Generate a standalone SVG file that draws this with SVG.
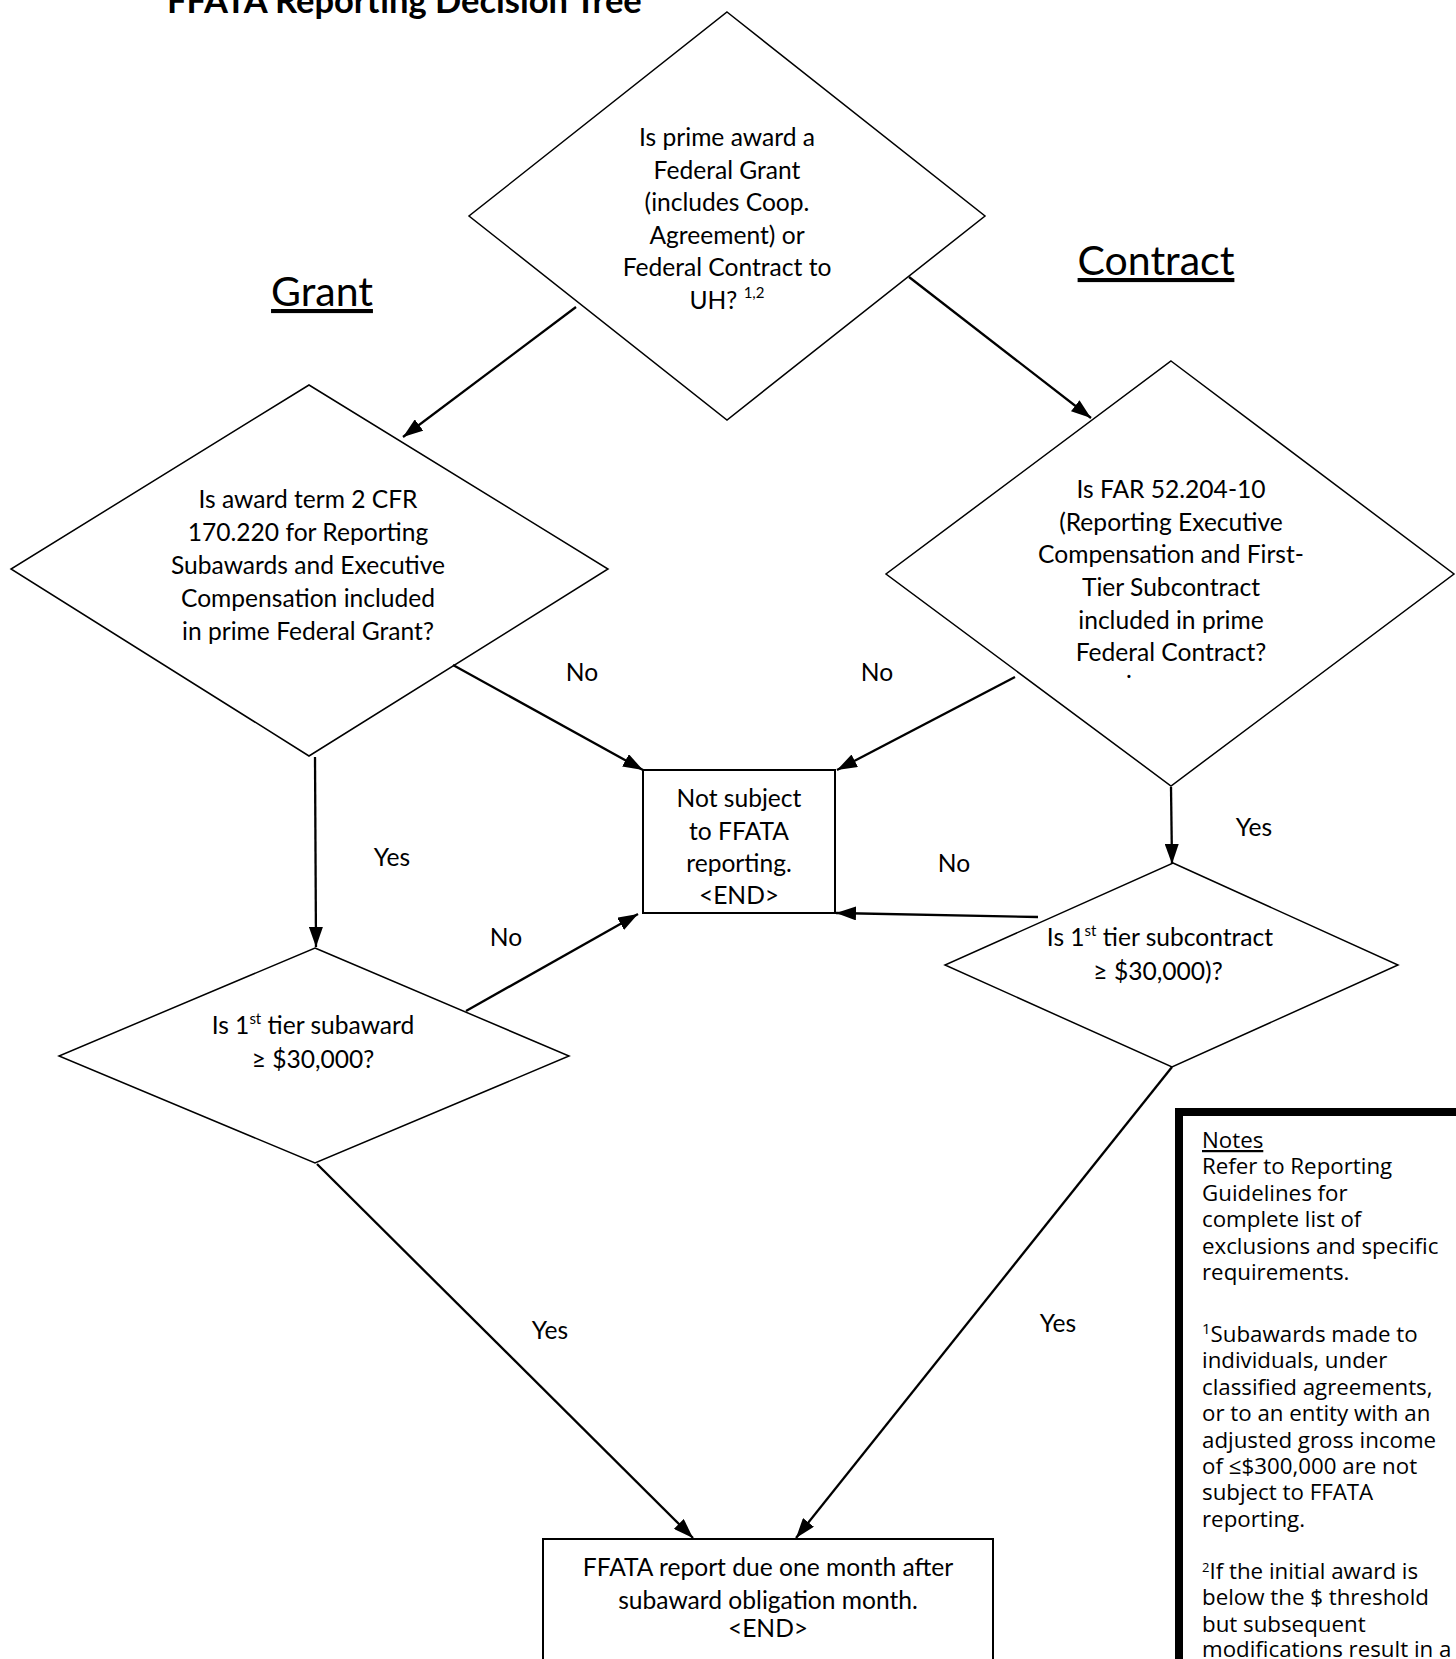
<svg xmlns="http://www.w3.org/2000/svg" width="1456" height="1659" viewBox="0 0 1456 1659">
<style>
.t{font-family:Lato,"Open Sans","Liberation Sans",sans-serif;font-size:24.6px;fill:#000;text-anchor:middle}
.big{font-family:Lato,"Open Sans","Liberation Sans",sans-serif;font-size:41px;fill:#000;text-anchor:middle;text-decoration:underline}
.title{font-family:Lato,"Open Sans","Liberation Sans",sans-serif;font-size:34.5px;font-weight:bold;fill:#000}
.n{font-family:"Open Sans","Liberation Sans",sans-serif;font-size:22.3px;fill:#000}
.d{fill:#fff;stroke:#000;stroke-width:1.5}
.b{fill:#fff;stroke:#000;stroke-width:2}
.c{fill:none;stroke:#000;stroke-width:2.3;marker-end:url(#ah)}
</style>
<defs>
<marker id="ah" markerUnits="userSpaceOnUse" markerWidth="20" markerHeight="14" refX="20" refY="7" orient="auto">
<path d="M0,0 L20,7 L0,14 z" fill="#000"/>
</marker>
</defs>
<rect width="1456" height="1659" fill="#fff"/>
<text class="title" x="167" y="13">FFATA Reporting Decision Tree</text>
<text class="big" x="322" y="306">Grant</text>
<text class="big" x="1156" y="275">Contract</text>

<g id="q-prime">
<polygon class="d" points="727,12 985,216 727,420 469,216"/>
<text class="t" x="727" y="146">Is prime award a</text>
<text class="t" x="727" y="179">Federal Grant</text>
<text class="t" x="727" y="211">(includes Coop.</text>
<text class="t" x="727" y="244">Agreement) or</text>
<text class="t" x="727" y="276">Federal Contract to</text>
<text class="t" x="727" y="309">UH? <tspan font-size="15" dy="-11">1,2</tspan></text>
</g>

<g id="q-grant">
<polygon class="d" points="309,385 608,569 309,756 11,569"/>
<text class="t" x="308" y="508">Is award term 2 CFR</text>
<text class="t" x="308" y="541">170.220 for Reporting</text>
<text class="t" x="308" y="574">Subawards and Executive</text>
<text class="t" x="308" y="607">Compensation included</text>
<text class="t" x="308" y="640">in prime Federal Grant?</text>
</g>

<g id="q-contract">
<polygon class="d" points="1171,361 1454,574 1171,786 886,574"/>
<text class="t" x="1171" y="498">Is FAR 52.204-10</text>
<text class="t" x="1171" y="531">(Reporting Executive</text>
<text class="t" x="1171" y="563">Compensation and First-</text>
<text class="t" x="1171" y="596">Tier Subcontract</text>
<text class="t" x="1171" y="629">included in prime</text>
<text class="t" x="1171" y="661">Federal Contract?</text>
<text class="t" x="1129" y="678" font-size="9">.</text>
</g>

<g id="end-not-subject">
<rect class="b" x="643" y="770" width="192" height="143"/>
<text class="t" x="739" y="807">Not subject</text>
<text class="t" x="739" y="840">to FFATA</text>
<text class="t" x="739" y="872">reporting.</text>
<text class="t" x="739" y="904" font-size="20">&lt;END&gt;</text>
</g>

<g id="q-subaward">
<polygon class="d" points="315,948 569,1056 315,1163 59,1056"/>
<text class="t" x="313" y="1034">Is 1<tspan font-size="15" dy="-10">st</tspan><tspan dy="10"> tier subaward</tspan></text>
<text class="t" x="313" y="1068">≥ $30,000?</text>
</g>

<g id="q-subcontract">
<polygon class="d" points="1173,863 1398,965 1172,1067 945,965"/>
<text class="t" x="1160" y="946">Is 1<tspan font-size="15" dy="-10">st</tspan><tspan dy="10"> tier subcontract</tspan></text>
<text class="t" x="1158" y="980">≥ $30,000)?</text>
</g>

<g id="end-report">
<rect class="b" x="543" y="1539" width="450" height="140"/>
<text class="t" x="768" y="1576">FFATA report due one month after</text>
<text class="t" x="768" y="1609">subaward obligation month.</text>
<text class="t" x="768" y="1637" font-size="18.5">&lt;END&gt;</text>
</g>

<g id="notes">
<rect x="1179" y="1112" width="400" height="700" fill="#fff" stroke="#000" stroke-width="8"/>
<text class="n" x="1202" y="1148" text-decoration="underline">Notes</text>
<text class="n" x="1202" y="1174">Refer to Reporting</text>
<text class="n" x="1202" y="1201">Guidelines for</text>
<text class="n" x="1202" y="1227">complete list of</text>
<text class="n" x="1202" y="1254">exclusions and specific</text>
<text class="n" x="1202" y="1280">requirements.</text>
<text class="n" x="1202" y="1342"><tspan font-size="15" dy="-8">1</tspan><tspan dy="8">Subawards made to</tspan></text>
<text class="n" x="1202" y="1368">individuals, under</text>
<text class="n" x="1202" y="1395">classified agreements,</text>
<text class="n" x="1202" y="1421">or to an entity with an</text>
<text class="n" x="1202" y="1448">adjusted gross income</text>
<text class="n" x="1202" y="1474">of ≤$300,000 are not</text>
<text class="n" x="1202" y="1500">subject to FFATA</text>
<text class="n" x="1202" y="1527">reporting.</text>
<text class="n" x="1202" y="1579"><tspan font-size="13" dy="-7">2</tspan><tspan dy="7">If the initial award is</tspan></text>
<text class="n" x="1202" y="1605">below the $ threshold</text>
<text class="n" x="1202" y="1632">but subsequent</text>
<text class="n" x="1202" y="1657">modifications result in a</text>
</g>

<g id="connectors">
<path class="c" d="M576,307 L403,437"/>
<path class="c" d="M909,277 L1091,418"/>
<path class="c" d="M453,665 L643,770"/>
<path class="c" d="M1015,677 L837,770"/>
<path class="c" d="M315,757 L316,947"/>
<path class="c" d="M1171,787 L1172,864"/>
<path class="c" d="M466,1011 L638,914"/>
<path class="c" d="M1038,917 L836,913"/>
<path class="c" d="M317,1164 L693,1538"/>
<path class="c" d="M1172,1067 L796,1538"/>
</g>

<g id="labels">
<text class="t" x="582" y="681">No</text>
<text class="t" x="877" y="681">No</text>
<text class="t" x="954" y="872">No</text>
<text class="t" x="506" y="946">No</text>
<text class="t" x="392" y="866">Yes</text>
<text class="t" x="1254" y="836">Yes</text>
<text class="t" x="550" y="1339">Yes</text>
<text class="t" x="1058" y="1332">Yes</text>
</g>
</svg>
